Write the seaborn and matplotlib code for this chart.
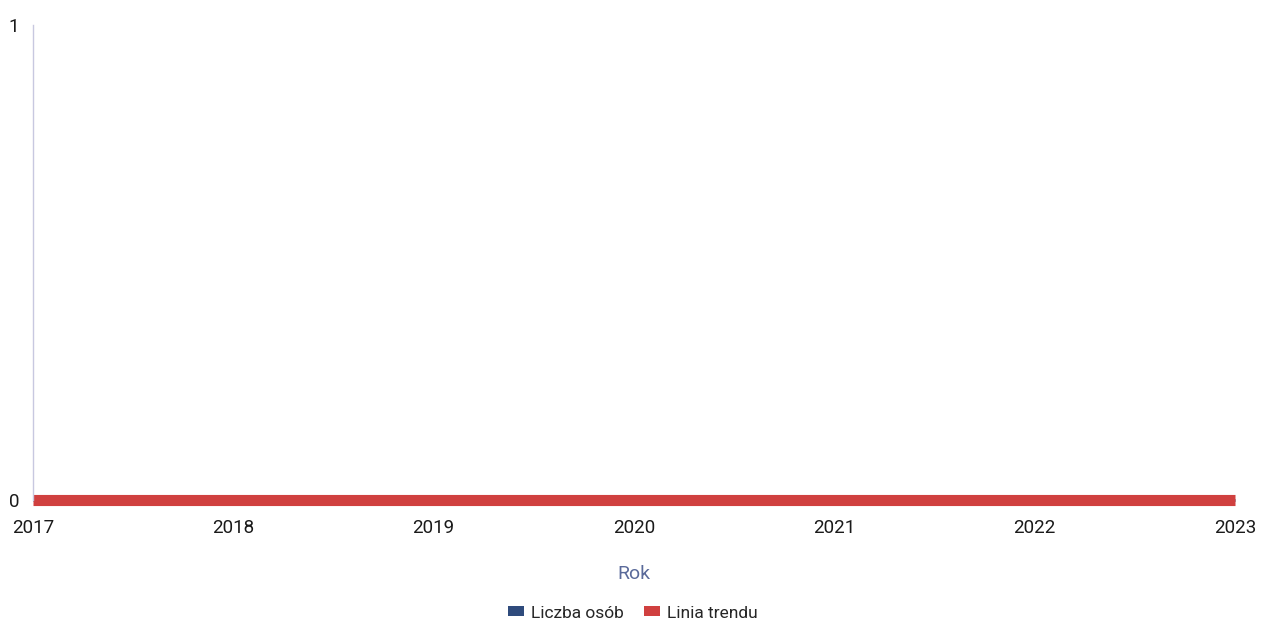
import matplotlib
matplotlib.use("Agg")
import matplotlib.pyplot as plt
import seaborn as sns
import pandas as pd
from matplotlib.patches import Patch

years = [2017, 2018, 2019, 2020, 2021, 2022, 2023]
liczba_osob = [0, 0, 0, 0, 0, 0, 0]
linia_trendu = [0, 0, 0, 0, 0, 0, 0]
y_ticks = [0, 1]

sns.set_theme(style="white")
plt.rcParams['font.family'] = ['Roboto', 'DejaVu Sans']

df = pd.DataFrame({"Rok": years, "Liczba osób": liczba_osob, "Linia trendu": linia_trendu})

fig = plt.figure(figsize=(12.66, 6.3), dpi=100)
ax = fig.add_axes([33/1266, 1 - 500/630, (1235 - 33)/1266, (500 - 25)/630])

blue = "#2f4b7c"
red = "#d0403f"
sns.lineplot(data=df, x="Rok", y="Liczba osób", ax=ax, color=blue, linewidth=2, legend=False, clip_on=False,
             solid_capstyle="butt")
sns.lineplot(data=df, x="Rok", y="Linia trendu", ax=ax, color=red, linewidth=8, legend=False, clip_on=False,
             solid_capstyle="butt")

ax.set_xlim(years[0], years[-1])
ax.set_ylim(0, 1)
ax.set_xticks(years)
ax.set_xticklabels([str(y) for y in years], fontsize=13.5, color="#1a1a1a")
ax.set_yticks(y_ticks)
ax.set_yticklabels([str(v) for v in y_ticks], fontsize=13.5, color="#1a1a1a")
ax.tick_params(axis="both", length=0)
ax.tick_params(axis="x", pad=14)
ax.tick_params(axis="y", pad=10)
ax.set_xlabel("Rok", fontsize=14, color="#5a6a9a", labelpad=20)
ax.set_ylabel("")
for s in ["top", "right", "bottom"]:
    ax.spines[s].set_visible(False)
ax.spines["left"].set_color("#c8c8e0")
ax.spines["left"].set_linewidth(1)

handles = [Patch(facecolor=blue, edgecolor="none", label="Liczba osób"),
           Patch(facecolor=red, edgecolor="none", label="Linia trendu")]
fig.legend(handles=handles, loc="center", bbox_to_anchor=(0.5, 1 - 613/630), ncol=2, frameon=False,
           fontsize=12.5, handlelength=0.9, handleheight=0.5, handletextpad=0.4, columnspacing=1.2)

fig.savefig("out.png", dpi=100)
